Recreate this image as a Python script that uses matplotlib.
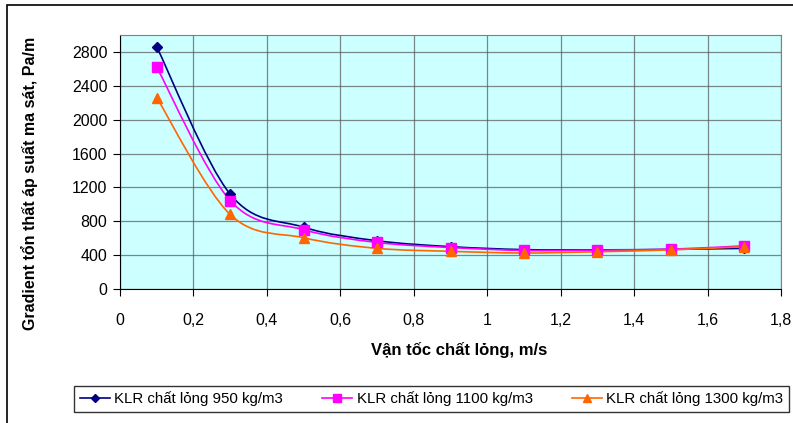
import numpy as np
import matplotlib.pyplot as plt
from matplotlib.path import Path
from matplotlib.patches import PathPatch, Rectangle
from matplotlib.lines import Line2D

plt.rcParams['font.family'] = ['Liberation Sans', 'DejaVu Sans']

# van toc (m/s)
velocity = [0.1, 0.3, 0.5, 0.7, 0.9, 1.1, 1.3, 1.5, 1.7]
# gradient ton that ap suat (Pa/m)
grad_950 = [2860, 1120, 730, 570, 500, 465, 462, 468, 480]
grad_1100 = [2620, 1045, 700, 550, 490, 455, 458, 470, 510]
grad_1300 = [2260, 880, 605, 480, 445, 425, 440, 462, 500]

labels = ['KLR chất lỏng 950 kg/m3', 'KLR chất lỏng 1100 kg/m3', 'KLR chất lỏng 1300 kg/m3']
colors = ['#000080', '#FF00FF', '#FF6600']
markers = ['D', 's', '^']
msizes = [5, 7, 7]


# duong cong muot kieu Excel (Bezier qua cac diem)
def smooth_path(xs, ys):
    pts = np.column_stack([xs, ys]).astype(float)
    n = len(pts)
    verts = [pts[0]]
    codes = [Path.MOVETO]
    for i in range(n - 1):
        p0 = pts[i - 1] if i > 0 else pts[i]
        p1 = pts[i]
        p2 = pts[i + 1]
        p3 = pts[i + 2] if i + 2 < n else pts[i + 1]
        c1 = p1 + (p2 - p0) / 6.0
        c2 = p2 - (p3 - p1) / 6.0
        verts += [c1, c2, p2]
        codes += [Path.CURVE4] * 3
    return Path(verts, codes)


fig = plt.figure(figsize=(7.93, 4.23), dpi=100)
ax = fig.add_axes([0.1513, 0.3168, 0.8337, 0.6005])
ax.set_facecolor('#CCFFFF')

for ys, c, m, ms, lb in zip([grad_950, grad_1100, grad_1300], colors, markers, msizes, labels):
    ax.add_patch(PathPatch(smooth_path(velocity, ys), facecolor='none', edgecolor=c, lw=1.2, zorder=3))
    ax.plot(velocity, ys, linestyle='none', marker=m, color=c, markersize=ms, zorder=4)

ax.set_xlim(0, 1.8)
ax.set_ylim(0, 3000)
ax.set_xticks(np.arange(0, 1.81, 0.2))
ax.set_xticklabels(['0', '0,2', '0,4', '0,6', '0,8', '1', '1,2', '1,4', '1,6', '1,8'])
ax.set_yticks(np.arange(0, 2801, 400))
ax.grid(True, color='#555555', lw=0.9, alpha=0.7)
ax.set_axisbelow(True)
ax.tick_params(labelsize=11.5, direction='out', length=5, color='black')
ax.tick_params(axis='x', pad=12)
ax.tick_params(axis='y', pad=4)
for s in ax.spines.values():
    s.set_color('#808080')
ax.spines['left'].set_color('black')
ax.spines['bottom'].set_color('black')

ax.set_xlabel('Vận tốc chất lỏng, m/s', fontsize=12, fontweight='bold')
ax.xaxis.set_label_coords((459 - 120) / 661, -(350 - 289) / 254, transform=ax.transAxes)
ax.set_ylabel('Gradient tổn thất áp suất ma sát, Pa/m', fontsize=11.5, fontweight='bold')
ax.yaxis.set_label_coords(-(120 - 30) / 661, (289 - 183) / 254, transform=ax.transAxes)
ax.xaxis.label.set_va('center')
ax.yaxis.label.set_va('center')

handles = [Line2D([], [], color=c, marker=m, markersize=ms - 1, lw=1.2)
           for c, m, ms in zip(colors, markers, msizes)]
leg = fig.legend(handles, labels, ncol=3, loc='center', bbox_to_anchor=(0.544, 0.0567),
                 fontsize=10.8, frameon=True, fancybox=False, edgecolor='black',
                 handlelength=2.0, handletextpad=0.3, columnspacing=2.6, borderpad=0.4,
                 borderaxespad=0)
leg.get_frame().set_linewidth(1.0)

# khung bao ngoai
fig.patches.append(Rectangle((7 / 793, -0.05), 1.2, 1 - 5 / 423 + 0.05, transform=fig.transFigure,
                             fill=False, edgecolor='black', lw=1.2))

fig.savefig('out.png', dpi=100)
